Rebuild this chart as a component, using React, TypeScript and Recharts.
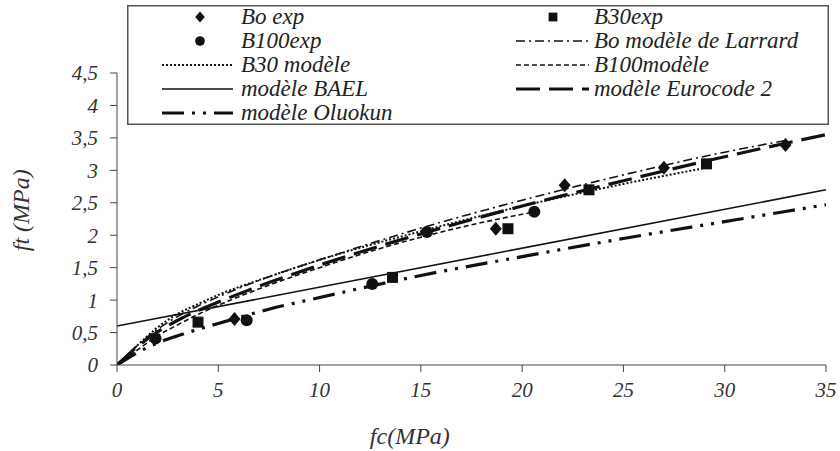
import React from 'react';
import { ComposedChart, Line, Scatter, XAxis, YAxis, Legend, Label } from 'recharts';

const FONT = 'Liberation Serif';
const INK = '#111';
const AXIS = '#444';

// Axis ticks
const xTicks = [0, 5, 10, 15, 20, 25, 30, 35];
const yTicks = [0, 0.5, 1, 1.5, 2, 2.5, 3, 3.5, 4, 4.5];

// Experimental points (fc in MPa, ft in MPa)
const boExpFc = [5.8, 18.7, 22.1, 27.0, 33.0];
const boExpFt = [0.71, 2.1, 2.77, 3.04, 3.39];
const b30ExpFc = [4.0, 13.6, 19.3, 23.3, 29.1];
const b30ExpFt = [0.66, 1.35, 2.1, 2.7, 3.1];
const b100ExpFc = [1.9, 6.4, 12.6, 15.3, 20.6];
const b100ExpFt = [0.41, 0.69, 1.25, 2.05, 2.36];

// Model curves
const larrardFc = [0, 1, 2, 3, 4, 5, 7.5, 10, 15, 20, 25, 30, 33];
const larrardFt = [0, 0.3, 0.55, 0.75, 0.91, 1.05, 1.36, 1.62, 2.11, 2.54, 2.93, 3.28, 3.46];
const b30ModelFc = [0, 1, 2, 3, 4, 5, 7.5, 10, 15, 20, 25, 29.1];
const b30ModelFt = [0, 0.3, 0.58, 0.79, 0.94, 1.08, 1.36, 1.62, 2.06, 2.45, 2.79, 3.04];
const b100ModelFc = [0, 1, 2, 3, 4, 5, 7.5, 10, 12.5, 15, 17.5, 20.6];
const b100ModelFt = [0, 0.23, 0.45, 0.62, 0.78, 0.92, 1.23, 1.5, 1.75, 1.97, 2.16, 2.36];
const baelFc = [0, 35];
const baelFt = [0.6, 2.7];
const eurocodeFc = [0, 1, 2, 3, 4, 5, 7.5, 10, 15, 20, 25, 30, 35];
const eurocodeFt = [0, 0.28, 0.51, 0.69, 0.84, 0.97, 1.27, 1.54, 2.02, 2.45, 2.84, 3.21, 3.55];
const oluokunFc = [0, 1, 2, 3, 4, 5, 7.5, 10, 15, 20, 25, 30, 35];
const oluokunFt = [0, 0.19, 0.34, 0.45, 0.55, 0.64, 0.86, 1.04, 1.38, 1.67, 1.95, 2.21, 2.47];

// Legend labels, row-major in two columns
const legendNames = [
  'Bo exp',
  'B30exp',
  'B100exp',
  'Bo modèle de Larrard',
  'B30 modèle',
  'B100modèle',
  'modèle BAEL',
  'modèle Eurocode 2',
  'modèle Oluokun',
];

const pts = (fc: number[], ft: number[]) => fc.map((x, i) => ({ fc: x, ft: ft[i] }));

const boExp = pts(boExpFc, boExpFt);
const b30Exp = pts(b30ExpFc, b30ExpFt);
const b100Exp = pts(b100ExpFc, b100ExpFt);
const larrard = pts(larrardFc, larrardFt);
const b30Model = pts(b30ModelFc, b30ModelFt);
const b100Model = pts(b100ModelFc, b100ModelFt);
const bael = pts(baelFc, baelFt);
const eurocode = pts(eurocodeFc, eurocodeFt);
const oluokun = pts(oluokunFc, oluokunFt);

type Mark = 'diamond' | 'square' | 'circle';
type LineStyle = { dash?: string; width: number };

const styles: Record<string, LineStyle> = {
  larrard: { dash: '9 4 2 4', width: 1.6 },
  b30: { dash: '2 2', width: 2 },
  b100: { dash: '5 3', width: 1.6 },
  bael: { width: 1.6 },
  eurocode: { dash: '24 9', width: 3.2 },
  oluokun: { dash: '22 8 3 8 3 8', width: 3.2 },
};

const legendKinds: (Mark | LineStyle)[] = [
  'diamond',
  'square',
  'circle',
  styles.larrard,
  styles.b30,
  styles.b100,
  styles.bael,
  styles.eurocode,
  styles.oluokun,
];

const drawMark = (kind: Mark, cx: number, cy: number, s: number) => {
  if (kind === 'diamond') {
    return (
      <path
        d={`M${cx},${cy - 7 * s}L${cx + 6 * s},${cy}L${cx},${cy + 7 * s}L${cx - 6 * s},${cy}Z`}
        fill={INK}
      />
    );
  }
  if (kind === 'square') {
    return <rect x={cx - 5.5 * s} y={cy - 5.5 * s} width={11 * s} height={11 * s} fill={INK} />;
  }
  return <circle cx={cx} cy={cy} r={6 * s} fill={INK} />;
};

const shapeOf = (kind: Mark) => (p: any) => drawMark(kind, p.cx, p.cy, 1);

const fmt = (v: number) => String(v).replace('.', ',');

const LegendBox = () => {
  const w = 702;
  const h = 120;
  const rowY = (r: number) => 12 + r * 24;
  return (
    <svg width={w} height={h} style={{ display: 'block' }}>
      <rect x={0.75} y={0.75} width={w - 1.5} height={h - 1.5} fill="#fff" stroke="#555" strokeWidth={1.5} />
      {legendNames.map((name, i) => {
        const col = i % 2;
        const row = Math.floor(i / 2);
        const y = rowY(row);
        const kind = legendKinds[i];
        const lx0 = col === 0 ? 35 : 389;
        const lx1 = col === 0 ? 106 : 462;
        const tx = col === 0 ? 114 : 467;
        return (
          <g key={name}>
            {typeof kind === 'string' ? (
              drawMark(kind, col === 0 ? 73 : 426, y, 0.8)
            ) : (
              <line
                x1={lx0}
                x2={lx1}
                y1={y}
                y2={y}
                stroke={INK}
                strokeWidth={kind.width}
                strokeDasharray={kind.dash}
              />
            )}
            <text
              x={tx}
              y={y + 7}
              fontFamily={FONT}
              fontStyle="italic"
              fontSize={23}
              fill="#222"
            >
              {name}
            </text>
          </g>
        );
      })}
    </svg>
  );
};

const modelLine = (key: string, data: any[], st: LineStyle) => (
  <Line
    key={key}
    data={data}
    dataKey="ft"
    type="monotone"
    stroke={INK}
    strokeWidth={st.width}
    strokeDasharray={st.dash}
    dot={false}
    activeDot={false}
    isAnimationActive={false}
  />
);

export default function App() {
  const tickStyle = { fontFamily: FONT, fontStyle: 'italic', fontSize: 21, fill: '#333' };
  return (
    <div style={{ position: 'absolute', left: 0, top: 0, background: '#fff' }}>
      <ComposedChart width={840} height={451} margin={{ top: 73, right: 14, bottom: 0, left: 0 }}>
        <XAxis
          dataKey="fc"
          type="number"
          domain={[0, 35]}
          ticks={xTicks}
          interval={0}
          height={86}
          tickSize={7}
          tickMargin={10}
          stroke={AXIS}
          tick={tickStyle}
          allowDataOverflow
        >
          <Label
            content={({ viewBox }: any) => (
              <text
                x={viewBox.x + viewBox.width * 0.413}
                y={viewBox.y + 79}
                textAnchor="middle"
                fontFamily={FONT}
                fontStyle="italic"
                fontSize={24}
                fill="#333"
              >
                fc(MPa)
              </text>
            )}
          />
        </XAxis>
        <YAxis
          dataKey="ft"
          type="number"
          domain={[0, 4.5]}
          ticks={yTicks}
          interval={0}
          width={117}
          tickSize={7}
          tickMargin={12}
          stroke={AXIS}
          tick={tickStyle}
          tickFormatter={fmt}
          allowDataOverflow
        >
          <Label
            content={({ viewBox }: any) => {
              const cx = viewBox.x + 21;
              const cy = viewBox.y + viewBox.height * 0.47;
              return (
                <text
                  x={cx}
                  y={cy}
                  transform={`rotate(-90 ${cx} ${cy})`}
                  textAnchor="middle"
                  dominantBaseline="central"
                  fontFamily={FONT}
                  fontStyle="italic"
                  fontSize={24}
                  fill="#333"
                >
                  ft (MPa)
                </text>
              );
            }}
          />
        </YAxis>
        <Legend
          layout="vertical"
          align="center"
          verticalAlign="middle"
          wrapperStyle={{ position: 'absolute', left: 127, top: 5, width: 702, height: 120 }}
          content={() => <LegendBox />}
        />
        {modelLine('bael', bael, styles.bael)}
        {modelLine('oluokun', oluokun, styles.oluokun)}
        {modelLine('eurocode', eurocode, styles.eurocode)}
        {modelLine('b100', b100Model, styles.b100)}
        {modelLine('b30', b30Model, styles.b30)}
        {modelLine('larrard', larrard, styles.larrard)}
        <Scatter data={boExp} dataKey="ft" shape={shapeOf('diamond')} isAnimationActive={false} />
        <Scatter data={b30Exp} dataKey="ft" shape={shapeOf('square')} isAnimationActive={false} />
        <Scatter data={b100Exp} dataKey="ft" shape={shapeOf('circle')} isAnimationActive={false} />
      </ComposedChart>
    </div>
  );
}
